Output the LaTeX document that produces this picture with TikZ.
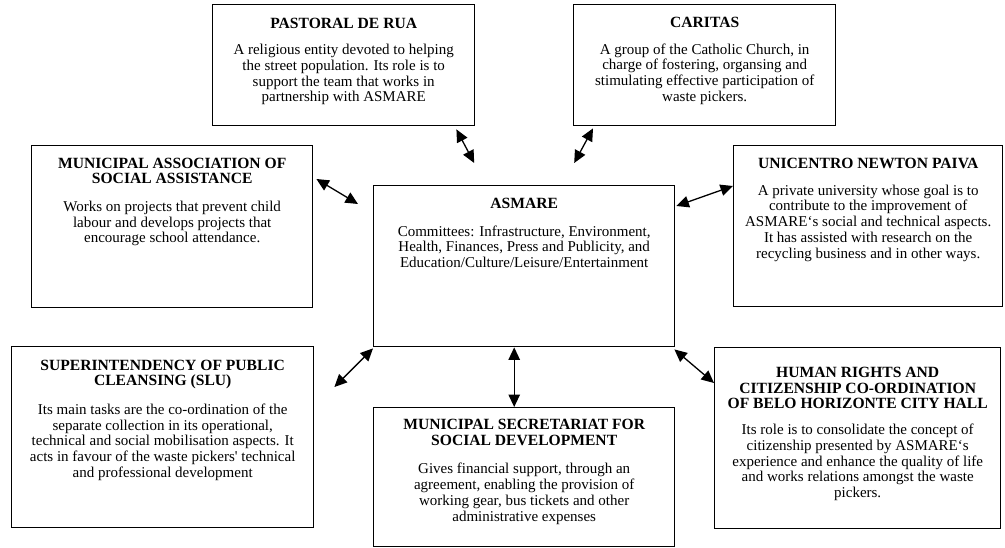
\documentclass[tikz,border=0pt]{standalone}
\usepackage{fontspec}
\setmainfont{Liberation Serif}
\usetikzlibrary{arrows.meta,calc}
\newcommand{\ttl}[1]{{\fontsize{15.6}{16}\selectfont\bfseries #1}}
\tikzset{
  box/.style={draw=black, line width=1.4pt, fill=white, rectangle, inner sep=0pt, anchor=north west},
  txt/.style={align=center, inner sep=0pt, anchor=north, font=\fontsize{15}{15.7}\selectfont},
  link/.style={line width=1.3pt, {Triangle[length=12.5pt,width=11.5pt]}-{Triangle[length=12.5pt,width=11.5pt]}},
}
\begin{document}
\begin{tikzpicture}[x=1pt,y=-1pt]
\useasboundingbox (0,0) rectangle (1005,548);

% boxes
\node[box, minimum width=262pt, minimum height=121pt] (pas) at (212,4) {};
\node[box, minimum width=262pt, minimum height=121pt] (car) at (573,4) {};
\node[box, minimum width=281pt, minimum height=162pt] (mas) at (31,145) {};
\node[box, minimum width=301pt, minimum height=161pt] (asm) at (373,185) {};
\node[box, minimum width=269pt, minimum height=161pt] (uni) at (733,145) {};
\node[box, minimum width=302pt, minimum height=181pt] (slu) at (11,346) {};
\node[box, minimum width=301pt, minimum height=139pt] (msd) at (373,407) {};
\node[box, minimum width=286pt, minimum height=181pt] (hrc) at (714,347) {};

% texts
\node[txt] (pasT) at ($(pas.north)+(0,13.5)$) {\ttl{PASTORAL DE RUA}\\[11pt]
  A religious entity devoted to helping\\the street population.  Its role is to\\support the team that works in\\partnership with ASMARE};
\node[txt] (carT) at ($(car.north)+(0,13)$) {\ttl{CARITAS}\\[11pt]
  A group of the Catholic Church, in\\charge of fostering, organsing and\\stimulating effective participation of\\waste pickers.};
\node[txt] (masT) at ($(mas.north)+(0,12.5)$) {\ttl{MUNICIPAL ASSOCIATION OF}\\\ttl{SOCIAL ASSISTANCE}\\[12pt]
  Works on projects that prevent child\\labour and develops projects that\\encourage school attendance.};
\node[txt] (asmT) at ($(asm.north)+(0,13)$) {\ttl{ASMARE}\\[12pt]
  Committees: Infrastructure, Environment,\\Health, Finances, Press and Publicity, and\\Education/Culture/Leisure/Entertainment};
\node[txt] (uniT) at ($(uni.north)+(0,13)$) {\ttl{UNICENTRO NEWTON PAIVA}\\[11pt]
  A private university whose goal is to\\contribute to the improvement of\\ASMARE‘s social and technical aspects.\\It has assisted with research on the\\recycling business and in other ways.};
\node[txt] (sluT) at ($(slu.north)+(0,13.5)$) {\ttl{SUPERINTENDENCY OF PUBLIC}\\\ttl{CLEANSING (SLU)}\\[13pt]
  Its main tasks are the co-ordination of the\\separate collection in its operational,\\technical and social mobilisation aspects.  It\\acts in favour of the waste pickers\textquotesingle\ technical\\and professional development};
\node[txt] (msdT) at ($(msd.north)+(0,12)$) {\ttl{MUNICIPAL SECRETARIAT FOR}\\\ttl{SOCIAL DEVELOPMENT}\\[13pt]
  Gives financial support, through an\\agreement, enabling the provision of\\working gear, bus tickets and other\\administrative expenses};
\node[txt] (hrcT) at ($(hrc.north)+(0,20)$) {\ttl{HUMAN RIGHTS AND}\\\ttl{CITIZENSHIP CO-ORDINATION}\\\ttl{OF BELO HORIZONTE CITY HALL}\\[10pt]
  Its role is to consolidate the concept of\\citizenship presented by ASMARE‘s\\experience and enhance the quality of life\\and works relations amongst the waste\\pickers.};

% connector end points
\coordinate (a1) at ($(pas.south east)+(-19,3)$);
\coordinate (b1) at ($(asm.north)+(-50,-22)$);
\coordinate (a2) at ($(car.south west)+(20,2)$);
\coordinate (b2) at ($(asm.north)+(50,-22)$);
\coordinate (a3) at ($(mas.north east)+(3,34)$);
\coordinate (b3) at ($(asm.north west)+(-15,19)$);
\coordinate (a4) at ($(asm.north east)+(1,21)$);
\coordinate (b4) at ($(uni.north west)+(0,41)$);
\coordinate (a5) at ($(slu.north east)+(20,41)$);
\coordinate (b5) at ($(asm.south west)+(0,1)$);
\coordinate (a6) at ($(asm.south)+(-10,0)$);
\coordinate (b6) at ($(msd.north)+(-10,0)$);
\coordinate (a7) at ($(asm.south east)+(-1,2)$);
\coordinate (b7) at ($(hrc.north west)+(0,36)$);

\draw[link] (a1) -- (b1);
\draw[link] (a2) -- (b2);
\draw[link] (a3) -- (b3);
\draw[link] (a4) -- (b4);
\draw[link] (a5) -- (b5);
\draw[link] (a6) -- (b6);
\draw[link] (a7) -- (b7);
\end{tikzpicture}
\end{document}
